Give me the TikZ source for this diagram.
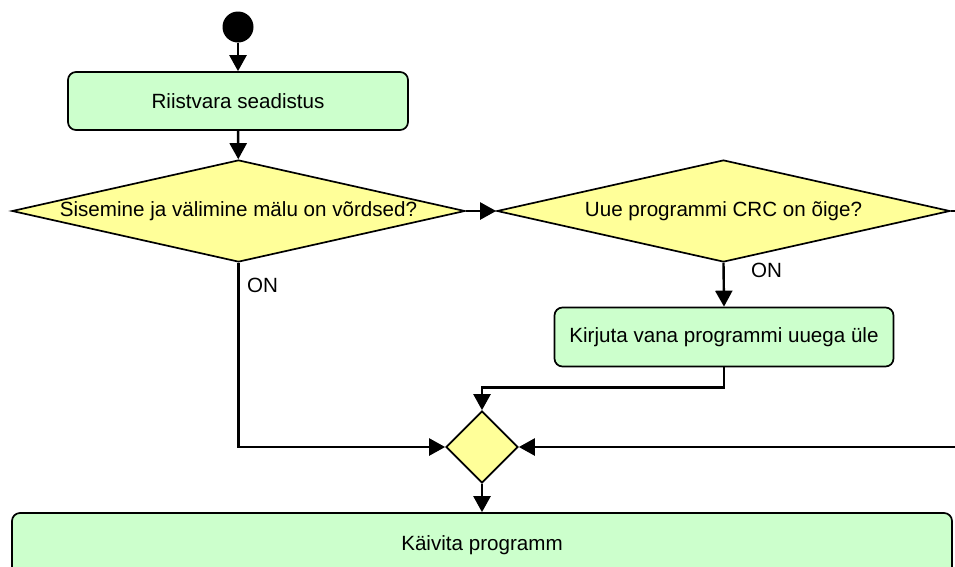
\documentclass[tikz,border=0pt]{standalone}
\usepackage{fontspec}
\setmainfont{Liberation Sans}
\usetikzlibrary{shapes.geometric,arrows.meta}
\definecolor{boxgreen}{HTML}{CCFFCC}
\definecolor{decyellow}{HTML}{FFFF99}
\begin{document}
\begin{tikzpicture}[x=1pt,y=-1pt,
  font=\fontsize{20.6}{24}\selectfont,
  actbox/.style={draw=black, line width=1.7pt, fill=boxgreen, rounded corners=8pt, inner sep=0pt},
  decis/.style={draw=black, line width=1.7pt, fill=decyellow, diamond, inner sep=0pt},
  conn/.style={line width=2.4pt, -{Triangle[length=16pt,width=17pt]}},
  lbl/.style={anchor=west, inner sep=0pt}]
\useasboundingbox (0,0) rectangle (955,566);
\clip (0,0) rectangle (955,566);

\node[circle, fill=black, minimum size=31pt, inner sep=0pt] (start) at (238,27) {};
\node[actbox, minimum width=340pt, minimum height=58pt] (b1) at (238,101) {Riistvara seadistus};
\node[decis, minimum width=453pt, minimum height=102pt,
      label={center:Sisemine ja välimine mälu on võrdsed?}] (d1) at (238.5,211) {};
\node[decis, minimum width=453pt, minimum height=102pt,
      label={center:Uue programmi CRC on õige?}] (d2) at (723.5,211) {};
\node[actbox, minimum width=339pt, minimum height=59pt] (b2) at (724,337) {Kirjuta vana programmi uuega üle};
\node[decis, minimum width=72pt, minimum height=72pt] (m) at (482,447) {};
\node[actbox, minimum width=940pt, minimum height=64pt] (b3) at (482,545) {Käivita programm};

\node[lbl] (on1) at (247,285) {ON};
\node[lbl] (on2) at (751,270) {ON};

\coordinate (rc) at (975,211);

\draw[conn] (start) -- (b1);
\draw[conn] (b1) -- (d1);
\draw[conn] (d1.east) -- (d2.west);
\draw[conn] (d2.south) -- (b2.north);
\draw[conn] (b2.south) -- ++(0,20) -| (m.north);
\draw[conn] (d1.south) |- (m.west);
\draw[conn] (d2.east) -- (rc) |- (m.east);
\draw[conn] (m.south) -- (b3.north);
\end{tikzpicture}
\end{document}
